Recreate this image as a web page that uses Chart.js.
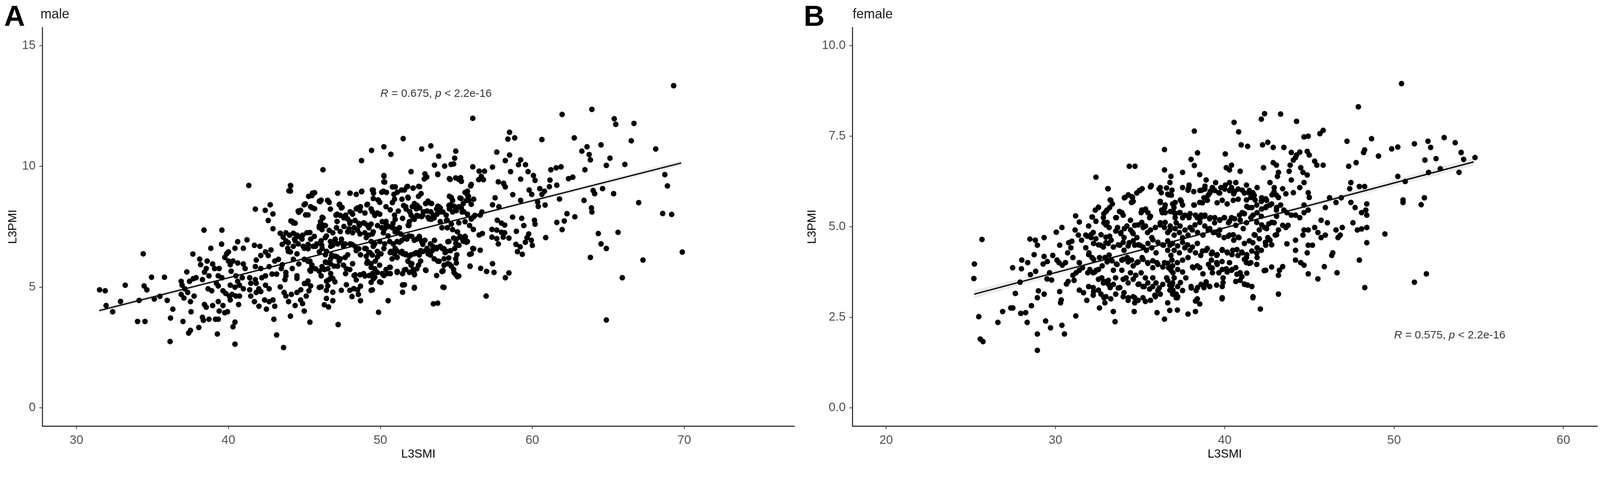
<!DOCTYPE html>
<html>
<head>
<meta charset="utf-8">
<script src="https://cdn.jsdelivr.net/npm/chart.js@4.4.1/dist/chart.umd.min.js"></script>
<style>
  html, body { margin: 0; padding: 0; background: #fff; overflow: hidden; }
  #page {
    width: 4314px;
    height: 1246px;
    position: absolute;
    left: 0;
    top: 0;
    transform-origin: 0 0;
    font-family: "Liberation Sans", Arial, sans-serif;
  }
  canvas { position: absolute; top: 0; }
  #chartMale { left: 0; width: 2150px; height: 1246px; }
  #chartFemale { left: 2150px; width: 2164px; height: 1246px; }
  .tag { position: absolute; font-weight: bold; font-size: 78px; line-height: 78px; color: #000; }
  .panelTitle { position: absolute; font-size: 36px; line-height: 36px; color: #1a1a1a; }
</style>
</head>
<body>
<div id="page">
  <canvas id="chartMale" width="2150" height="1246"></canvas>
  <canvas id="chartFemale" width="2164" height="1246"></canvas>
  <div class="tag" style="left:11px;top:4px">A</div>
  <div class="panelTitle" style="left:109px;top:20px">male</div>
  <div class="tag" style="left:2167px;top:4px">B</div>
  <div class="panelTitle" style="left:2299px;top:20px">female</div>
</div>

<script>
const FONT = '"Liberation Sans", Arial, sans-serif';

// keep the 4314x1246 layout inside whatever viewport we get
const page = document.getElementById("page");
const fit = Math.min(window.innerWidth / 4314, window.innerHeight / 1246);
if (fit > 0 && Math.abs(fit - 1) > 0.002) {
  page.style.transform = "scale(" + fit + ")";
}

const maleXTicks = [30, 40, 50, 60, 70];
const maleYTicks = [0, 5, 10, 15];
const femaleXTicks = [20, 30, 40, 50, 60];
const femaleYTicks = [0, 2.5, 5, 7.5, 10];

// [L3SMI, L3PMI]
const malePoints = [
  [31.52,4.89],[31.89,4.85],[31.95,4.24],[32.38,3.98],[32.9,4.41],[33.21,5.08],[34.39,6.38],[34.45,5.05],[34.63,4.89],[34.12,4.45],
  [34.02,3.58],[34.51,3.58],[34.94,5.41],[35.79,5.41],[35.12,4.51],[35.49,4.62],[35.97,4.45],[36.34,4.09],[36.19,3.72],[36.16,2.75],
  [37.01,3.58],[37.26,5.63],[36.89,5.24],[36.95,5.08],[37.13,4.93],[36.89,4.70],[37.07,4.55],[37.32,4.78],[37.44,5.24],[37.68,5.35],
  [37.87,5.39],[37.66,6.37],[37.5,4.40],[37.54,3.98],[37.5,3.21],[37.38,3.10],[37.74,4.63],[38.11,6.16],[38.17,5.93],[38.05,3.33],
  [38.39,7.36],[38.6,6.08],[38.96,5.96],[38.54,5.77],[38.42,5.62],[38.72,5.47],[38.84,6.61],[38.29,5.31],[38.66,4.93],[38.9,4.85],
  [38.42,4.28],[38.54,4.17],[38.29,3.75],[38.35,3.63],[38.72,3.67],[38.96,4.24],[39.15,3.67],[39.33,3.67],[39.27,3.06],[39.57,7.36],
  [39.55,6.78],[39.09,5.77],[39.39,5.77],[39.33,5.47],[39.57,5.39],[39.21,5.16],[39.33,5.05],[39.64,4.85],[39.82,4.74],[39.33,4.40],
  [39.64,4.24],[39.39,4.01],[39.76,3.94],[39.94,3.98],[39.88,6.38],[40.0,6.46],[39.76,6.23],[40.0,6.08],[40.12,5.93],[40.61,6.88],
  [40.43,6.61],[40.3,6.08],[40.61,6.0],[40.18,5.66],[40.49,5.47],[40.12,5.08],[40.43,5.0],[40.61,5.24],[40.06,4.63],[40.24,4.70],
  [40.49,4.63],[40.73,4.63],[40.12,4.47],[40.67,4.28],[40.43,3.55],[40.3,3.36],[40.43,2.64],[40.98,6.61],[41.22,6.96],[41.34,9.21],
  [40.98,5.96],[41.1,5.77],[40.91,5.39],[40.73,5.08],[40.98,4.93],[41.4,5.39],[41.47,5.16],[41.4,4.89],[41.47,4.63],[41.77,8.23],
  [41.71,6.73],[42.07,6.69],[41.83,6.12],[42.13,6.31],[41.77,5.85],[42.13,5.77],[41.77,5.31],[41.83,5.16],[42.0,4.93],[42.13,4.82],
  [41.83,4.78],[41.71,4.40],[42.01,4.21],[42.2,5.39],[42.42,8.18],[42.75,8.41],[42.62,7.76],[42.93,8.03],[42.93,7.42],[42.44,6.46],
  [42.8,6.54],[42.62,6.31],[42.68,5.85],[43.05,6.08],[42.44,5.47],[42.87,5.54],[42.44,5.08],[42.68,4.93],[42.38,4.47],[42.68,4.40],
  [42.93,4.47],[42.5,4.09],[43.05,4.21],[42.99,3.67],[43.17,3.02],[43.63,2.50],[43.41,7.23],[43.6,7.07],[43.78,6.92],[43.54,6.77],
  [43.9,6.61],[43.29,6.15],[43.54,5.93],[43.48,5.77],[43.17,5.54],[43.78,5.47],[43.72,5.31],[43.41,5.01],[43.66,4.78],[43.78,4.63],
  [43.96,4.40],[44.08,9.21],[44.08,8.98],[44.2,7.72],[44.39,7.65],[44.63,8.10],[44.75,8.18],[44.27,7.23],[44.51,7.15],[44.39,6.92],
  [44.08,6.46],[44.51,6.38],[44.27,6.15],[44.2,5.77],[44.63,5.96],[44.51,5.47],[44.14,4.70],[44.51,4.78],[44.39,4.24],[44.75,4.47],
  [44.08,3.80],[44.99,4.01],[45.36,3.55],[45.12,4.63],[44.88,4.32],[45.12,5.16],[45.3,4.85],[44.99,6.15],[45.36,6.08],[45.49,5.85],
  [45.36,5.70],[44.99,6.61],[45.24,6.77],[45.73,6.69],[45.06,8.45],[45.49,8.29],[45.49,8.79],[45.67,8.91],[45.24,7.99],[44.88,7.15],
  [45.36,7.26],[46.1,8.6],[46.22,9.86],[45.98,7.53],[46.16,7.38],[46.1,6.92],[45.98,6.46],[46.16,5.85],[46.1,5.47],[46.1,5.01],
  [47.19,8.89],[47.99,8.89],[48.41,8.84],[48.76,8.95],[48.76,10.24],[49.42,10.66],[50.23,10.81],[50.69,10.5],[50.23,9.62],[50.23,9.36],
  [49.53,9.02],[50.09,8.93],[50.79,9.15],[46.03,8.54],[46.52,8.59],[47.29,8.41],[47.43,8.28],[47.71,7.98],[47.08,7.98],[47.15,7.72],
  [46.17,7.89],[46.38,7.55],[48.13,8.07],[48.41,8.24],[48.69,8.33],[49.11,8.41],[49.53,8.67],[49.88,8.59],[49.39,8.24],[49.8,8.07],
  [50.37,8.33],[50.65,8.2],[50.79,8.5],[50.93,7.98],[47.99,7.64],[48.27,7.46],[47.85,7.29],[48.62,7.55],[48.97,7.64],[49.25,7.46],
  [49.53,7.29],[49.81,7.55],[50.09,7.46],[50.37,7.72],[50.79,7.46],[51.07,7.29],[50.51,7.12],[46.45,7.12],[47.01,6.94],[47.43,6.86],
  [46.73,6.69],[47.57,6.69],[48.13,6.77],[48.41,6.51],[48.69,6.34],[47.85,6.34],[46.17,6.6],[46.38,6.34],[46.73,6.17],[47.15,6.25],
  [48.97,6.6],[49.25,6.43],[49.53,6.69],[49.81,6.25],[50.23,6.6],[50.65,6.43],[51.07,6.51],[49.11,5.99],[49.39,5.82],[49.67,6.08],
  [49.95,5.91],[50.37,5.73],[50.65,5.82],[49.25,5.48],[49.53,5.35],[49.95,5.22],[50.23,5.48],[50.65,5.56],[47.57,5.91],[47.99,5.73],
  [47.71,5.56],[48.27,5.48],[46.31,5.73],[46.73,5.56],[46.59,5.3],[47.01,5.22],[46.45,4.87],[46.87,4.79],[46.45,4.53],[46.87,4.44],
  [46.31,4.27],[46.59,4.18],[47.99,4.87],[48.13,4.61],[48.55,4.7],[48.69,4.44],[48.41,5.3],[48.69,5.04],[49.39,4.87],[49.88,3.96],
  [50.51,4.44],[47.22,3.45],[47.43,4.87],[47.29,6.08],[46.38,6.04],
  [69.3,13.34],[61.96,12.15],[63.92,12.36],[56.08,11.99],[65.39,11.97],[65.49,11.74],[66.69,11.78],[51.5,11.15],[58.5,11.41],[58.39,11.13],
  [58.84,11.18],[60.63,11.11],[62.76,11.18],[66.51,11.06],[52.72,10.72],[53.32,10.85],[53.84,10.42],[54.96,10.63],[54.89,10.34],[54.82,10.10],
  [57.66,10.59],[58.5,10.47],[58.22,10.24],[59.23,10.27],[63.26,10.63],[63.6,10.81],[63.74,10.49],[63.82,10.27],[64.52,10.89],[65.11,10.34],
  [64.87,10.04],[66.09,10.08],[68.12,10.72],[53.56,10.05],[54.23,10.01],[54.65,10.08],[56.08,9.98],[57.38,9.97],[56.5,9.8],[56.85,9.8],
  [59.09,10.07],[59.55,10.07],[58.57,9.78],[59.72,9.78],[61.22,9.86],[61.57,9.94],[61.89,9.98],[63.46,9.86],[52.02,9.78],[52.93,9.69],
  [53.77,9.68],[54.54,9.49],[54.96,9.52],[55.28,9.53],[56.64,9.58],[56.47,9.45],[56.78,9.45],[57.76,9.36],[58.11,9.28],[59.23,9.47],
  [60.07,9.62],[60.18,9.42],[61.16,9.43],[62.38,9.49],[62.66,9.55],[68.72,9.66],[68.89,9.19],[67.0,8.5],[68.58,8.05],[69.17,8.01],
  [69.87,6.45],[67.28,6.12],[65.92,5.39],[64.87,3.64],[63.82,6.23],[64.34,7.22],[64.52,6.79],[64.87,6.6],[65.64,7.27],[65.35,8.87],
  [64.0,9.0],[64.1,8.87],[64.62,9.08],[63.4,8.59],[63.89,8.28],[63.92,8.11],[62.8,7.91],[62.28,8.04],[62.1,7.74],[61.61,7.68],
  [61.96,7.38],[60.88,7.05],[61.79,8.65],[60.84,8.4],[60.39,8.34],[60.35,8.52],[60.49,9.08],[60.8,8.97],[60.63,8.84],[59.96,8.84],
  [59.79,9.02],[61.12,9.16],[61.61,9.22],[59.23,8.59],[58.71,8.83],[58.22,9.15],[58.11,9.30],[57.55,8.70],[57.38,8.41],[57.8,8.33],
  [58.7,7.9],[59.3,7.85],[59.44,7.55],[60.14,7.77],[60.18,7.61],[59.76,7.2],[59.65,7.05],[59.93,6.94],[59.54,6.86],[60.0,6.73],
  [58.95,7.31],[58.92,6.77],[59.2,6.67],[59.02,6.47],[59.34,6.36],[57.69,7.77],[57.97,7.65],[58.18,7.57],[57.34,7.39],[57.66,7.36],
  [57.97,7.27],[58.18,7.25],[57.34,7.07],[57.66,7.01],[58.08,7.07],[58.46,7.03],[57.76,6.79],[56.08,6.6],[56.57,6.53],[55.87,6.36],
  [55.9,5.86],[56.6,5.78],[56.99,5.65],[57.48,5.61],[57.38,5.97],[58.46,5.59],[58.22,5.39],[56.96,4.63],[56.12,7.9],[56.57,7.98],
  [56.68,8.11],[55.87,7.55],[56.12,7.39],[56.5,7.16],[56.71,7.22],[55.07,7.29],[55.31,7.05],[55.59,7.07],[55.45,6.9],[54.82,7.03],
  [54.96,6.82],[55.66,6.86],[55.17,6.73],[54.89,6.6],[55.03,6.34],[54.96,6.17],[55.0,6.0],[54.82,5.73],[54.96,5.52],[55.07,5.43],
  [55.45,8.46],[55.66,8.59],[55.8,8.76],[55.73,8.97],[55.94,9.19],[55.31,8.67],[55.17,8.33],[55.38,8.11],[55.73,8.02],[54.61,8.41],
  [54.89,8.33],[54.54,8.24],[54.75,8.11],[54.12,8.11],[54.33,7.98],[54.54,8.76],[54.75,8.59],[54.4,7.77],[54.05,7.46],[54.4,7.46],
  [54.75,7.38],[54.44,6.88],[54.08,6.6],[54.26,6.43],[54.61,6.51],[54.5,6.21],[53.77,6.08],[54.19,5.91],[54.05,5.65],[54.54,5.95],
  [53.56,6.94],[53.7,6.64],[53.42,6.51],[53.14,6.38],[53.7,8.24],[53.84,8.33],[53.49,7.98],[53.35,7.81],[52.98,8.46],[53.21,8.5],
  [53.07,8.15],[52.79,7.98],[53.14,7.89],[52.51,7.94],[52.23,7.81],[52.02,7.98],[51.88,7.55],[52.37,8.24],[51.67,8.33],[51.18,8.15],
  [51.46,7.85],[50.97,7.81],[52.51,8.76],[51.81,8.72],[51.11,8.93],[51.39,9.02],[51.74,9.15],[52.16,9.1],[52.58,9.16],[51.88,7.12],
  [52.23,6.94],[52.58,7.03],[52.93,6.94],[52.79,6.77],[51.6,7.07],[51.25,6.86],[50.97,6.6],[51.32,6.43],[51.67,6.34],[52.02,6.34],
  [52.37,6.43],[52.65,6.51],[53.07,6.6],[51.81,6.08],[52.02,5.91],[52.16,5.73],[52.23,5.56],[51.67,5.73],[51.11,5.65],[51.46,5.56],
  [53.0,5.69],[53.7,5.48],[54.12,5.69],[54.12,5.0],[51.46,4.79],[51.46,5.09],[52.23,4.96],[53.49,4.31],[53.77,4.34],[52.65,6.08],
  [52.51,5.91],[50.97,7.29],[51.25,7.46],[50.83,7.64],
  // dense middle of the cloud
  [50.24,9.59],[50.28,9.35],[53.05,9.56],[52.89,9.48],[53.78,9.66],[54.59,9.46],[55.16,9.46],[55.33,9.38],[55.98,9.25],[44.1,9.20],
  [43.98,8.99],[50.98,9.15],[51.79,9.17],[52.15,9.10],[52.52,9.17],[51.58,9.02],[49.47,9.02],[49.55,8.89],[50.2,8.97],[50.4,8.92],
  [48.01,8.89],[48.78,8.97],[45.53,8.89],[45.28,8.76],[52.68,8.87],[55.57,8.92],[55.73,8.82],[50.89,8.84],[50.93,8.64],[51.42,8.64],
  [51.83,8.69],[49.84,8.61],[49.96,8.51],[54.67,8.71],[55.24,8.69],[56.14,8.64],[45.98,8.56],[46.54,8.59],[46.63,8.51],[44.98,8.41],
  [45.41,8.33],[45.67,8.25],[47.32,8.43],[47.48,8.30],[49.15,8.43],[52.24,8.46],[52.4,8.38],[53.13,8.56],[53.37,8.46],[53.78,8.35],
  [53.94,8.28],[54.51,8.38],[54.84,8.35],[55.0,8.17],[55.81,8.59],[55.98,8.43],[55.33,8.28],[55.49,8.12],[51.53,8.38],[51.69,8.23],
  [51.93,8.12],[52.1,8.33],[52.42,8.38],[52.58,8.28],[52.83,8.12],[53.32,8.12],[53.72,8.02],[53.97,8.12],[48.5,8.28],[48.66,8.17],
  [48.98,8.07],[49.47,8.12],[49.63,7.97],[49.96,8.02],[48.01,8.12],[48.17,8.02],[46.71,8.23],[44.59,8.15],[45.08,7.99],[47.15,8.02],
  [47.36,7.97],[47.6,7.87],[47.85,7.82],[48.01,7.71],[46.22,7.87],[46.06,7.71],[44.11,7.74],[44.27,7.66],[48.33,7.76],[48.58,7.64],
  [48.9,7.66],[49.15,7.56],[49.39,7.61],[50.12,7.71],[50.37,7.61],[50.53,7.51],[50.28,7.41],[50.2,7.25],[50.93,7.41],[51.1,7.3],
  [51.34,7.2],[51.83,7.56],[51.91,7.71],[52.15,7.87],[52.4,7.97],[52.72,7.92],[53.21,7.82],[53.54,7.87],[53.94,7.71],[54.35,7.76],
  [54.67,7.61],[55.16,7.66],[55.57,7.71],[55.98,7.82],[56.22,7.97],[45.98,7.46],[46.22,7.56],[46.63,7.35],[46.87,7.25],[47.11,7.46],
  [47.36,7.3],[47.6,7.51],[47.93,7.41],[48.17,7.25],[48.5,7.35],[48.66,7.2],[48.98,7.25],[49.23,7.15],[49.47,7.2],[43.78,7.25],
  [44.02,7.15],[44.35,6.99],[44.59,7.1],[44.84,6.99],[45.16,7.25],[45.41,6.99],[45.65,7.1],[43.94,6.84],[44.27,6.69],[44.59,6.79],
  [44.92,6.69],[45.24,6.59],[45.57,6.69],[45.81,6.79],[46.14,6.74],[46.38,7.05],[46.71,6.89],[46.87,6.74],[47.03,6.99],[47.19,6.79],
  [47.44,6.99],[47.68,6.79],[48.01,6.79],[48.33,6.69],[48.58,6.59],[49.07,7.05],[49.39,6.89],[49.63,6.79],[49.96,6.89],[50.28,6.79],
  [50.61,6.89],[50.85,6.79],[51.1,6.89],[51.42,6.94],[51.75,6.99],[52.07,7.1],[52.4,6.99],[52.72,6.89],[52.56,7.1],[53.29,6.79],
  [53.45,6.69],[53.7,6.59],[53.94,6.69],[54.19,6.59],[54.35,6.48],[55.0,6.99],[55.24,7.1],[55.41,6.99],[55.57,7.1],[55.73,6.89],
  [55.0,6.79],[54.51,6.89],[56.14,6.59],[55.98,6.38],[49.07,6.59],[49.31,6.43],[49.07,6.28],[49.47,6.33],[49.8,6.48],[50.04,6.38],
  [50.69,6.48],[50.93,6.38],[50.77,6.17],[51.1,6.23],[51.42,6.48],[51.67,6.38],[51.91,6.28],[52.24,6.38],[52.56,6.33],[52.81,6.48],
  [53.13,6.53],[53.29,6.33],[53.54,6.17],[53.86,6.07],[54.19,6.17],[54.43,5.97],[54.67,5.87],[54.84,5.61],[55.16,5.46],[55.9,5.87],
  [54.11,5.66],[46.46,6.48],[46.79,6.33],[47.03,6.28],[47.36,6.17],[47.68,6.23],[45.24,6.07],[45.49,5.92],[45.73,5.76],[45.98,5.66],
  [45.41,5.66],[46.46,6.02],[46.71,5.97],[46.95,5.87],[47.19,5.87],[46.54,5.76],[47.76,5.76],[48.17,5.97],[48.33,5.51],[48.66,5.51],
  [48.9,5.56],[49.15,6.07],[49.39,5.97],[49.63,5.76],[49.47,5.56],[49.8,5.61],[49.63,5.41],[50.12,5.56],[50.61,5.82],[51.1,5.61],
  [51.58,5.71],[51.91,5.61],[52.24,5.51],[51.5,6.38],[51.83,6.07],[52.07,5.97],[52.4,5.76],[52.97,5.71],[44.51,5.36],[45.0,5.15],
  [45.24,5.25],[45.41,5.05],[44.76,4.89],[45.98,4.99],[46.46,5.25],[46.71,5.36],[46.87,5.36],[46.54,5.05],[47.76,5.1],[48.25,4.94],
  [48.5,4.89],[48.98,5.46],[49.39,5.2],[49.47,4.89],[50.04,5.2],[50.45,5.56],[51.58,5.1],[52.24,4.99],[54.19,4.99],[43.78,5.61],
  [43.78,6.89],[43.94,6.48]
];

const femalePoints = [
  [25.66,4.65],[25.21,3.97],[25.18,3.57],[25.47,2.52],[25.56,1.90],[25.72,1.83],[26.6,2.36],[26.88,2.66],[27.36,2.76],[27.48,2.76],
  [27.47,3.87],[27.63,3.16],[27.91,3.47],[28.01,4.08],[27.99,3.84],[28.36,4.01],[27.95,2.61],[28.24,2.63],[28.33,2.36],[28.49,4.66],
  [28.81,4.63],[28.93,4.49],[29.33,4.70],[28.74,4.23],[28.83,3.77],[28.52,3.68],[28.58,2.82],[28.93,2.04],[28.93,1.59],[28.99,3.23],
  [28.93,3.04],[29.33,3.14],[29.42,2.40],[29.71,2.21],[29.33,4.18],[29.52,4.04],[29.27,3.97],[29.65,3.73],[29.5,3.56],[29.77,3.53],
  [29.84,4.21],[30.09,4.08],[30.05,4.85],[30.38,4.98],[30.25,4.49],[30.21,4.01],[30.4,3.94],[30.59,4.01],[30.25,3.21],[30.34,2.98],
  [30.3,2.90],[30.38,2.28],[30.53,2.04],[30.65,3.42],[30.75,3.49],[30.72,4.28],[30.91,4.42],[31.03,4.15],[30.78,4.56],[30.97,4.60],
  [31.03,3.66],[31.22,3.73],[31.1,3.52],[31.2,2.54],[31.19,5.30],[31.41,5.13],[31.16,4.91],[31.35,4.77],[31.54,4.63],[31.41,4.01],
  [31.6,3.87],[31.41,3.80],[31.41,3.25],[31.66,3.18],[31.85,2.97],[31.79,4.42],[31.98,4.28],[32.16,4.15],[31.79,4.77],[32.1,4.70],
  [32.23,4.84],[32.16,5.27],[32.35,5.46],[32.54,5.53],[32.39,6.37],[31.91,3.73],[32.23,3.73],[32.41,3.80],[32.23,3.32],[32.54,3.25],
  [32.23,3.11],[32.6,2.76],[32.73,3.59],[32.86,3.49],[33.11,3.42],[32.86,3.04],[32.92,2.90],[32.6,4.15],[32.92,4.15],[33.17,4.22],
  [32.67,4.49],[32.98,4.56],[33.29,4.63],[32.86,5.11],[33.17,4.98],[32.86,5.36],[33.04,5.46],[33.11,6.05],[33.23,5.74],[33.36,5.63],
  [33.29,4.08],[33.6,3.97],[33.42,3.80],[33.55,3.59],[33.23,3.32],[33.42,2.66],[33.52,2.38],[33.6,5.25],[33.92,5.39],[33.67,4.98],
  [33.86,4.84],[34.05,4.70],[33.8,4.49],[34.05,4.35],[33.92,4.08],[34.24,4.15],[33.92,3.80],[34.17,3.59],[33.8,3.32],[34.05,3.18],
  [34.11,5.81],[34.3,5.88],[34.55,5.81],[34.36,6.67],[34.7,6.67],[34.49,5.67],[34.3,3.04],[34.68,3.04],[34.68,2.90],[34.65,2.66],
  [34.43,5.18],[34.68,5.04],[34.55,4.84],[34.81,4.70],[34.36,4.56],[34.68,4.49],[34.99,4.49],[34.49,4.08],[34.81,4.01],[35.12,4.15],
  [34.43,3.73],[34.74,3.66],[35.06,3.73],[35.31,3.59],[34.93,3.42],[35.24,3.35],[35.56,3.28],[34.99,6.0],[35.12,6.05],[35.66,6.14],
  [35.31,2.94],[35.06,5.39],[35.31,5.46],[35.56,5.25],[35.18,4.98],[35.44,4.84],[35.69,4.70],[35.37,4.35],[35.69,4.42],[35.94,4.28],
  [35.44,4.01],[35.75,3.87],[35.99,4.01],[35.75,3.59],[35.94,3.45],[36.13,3.31],[35.87,3.11],[36.0,2.63],[36.19,6.08],[36.25,5.94],
  [36.19,5.67],[36.45,5.53],[36.31,5.39],[36.44,6.57],[36.82,6.39],[36.44,7.13],[36.19,5.11],[36.44,4.98],[36.63,4.84],[36.38,4.49],
  [36.63,4.35],[36.82,4.21],[36.44,4.01],[36.68,3.87],[36.94,3.73],[36.57,3.59],[36.75,3.39],[36.94,3.25],[37.13,3.04],[36.75,2.69],
  [36.44,2.45],[36.69,5.88],[37.0,5.53],[37.07,5.25],
  [50.44,8.95],[47.89,8.31],[40.55,7.88],[40.82,7.62],[38.2,7.64],[42.16,7.97],[42.35,8.12],[43.3,8.11],[44.24,7.91],[44.68,7.48],
  [44.93,7.50],[45.62,7.57],[45.81,7.66],[47.22,7.36],[48.67,7.43],[40.97,7.26],[41.35,7.22],[42.23,7.26],[42.54,7.33],[42.86,7.19],
  [43.49,7.19],[38.39,7.04],[38.01,6.86],[38.2,6.69],[37.51,6.50],[38.52,6.44],[40.03,7.01],[40.09,6.63],[40.28,6.57],[40.4,6.70],
  [40.91,6.53],[42.29,6.63],[42.86,6.77],[43.05,6.70],[43.17,6.50],[43.11,6.39],[43.86,6.70],[44.05,6.84],[44.24,6.98],[44.43,7.06],
  [43.93,7.05],[44.18,6.91],[43.8,6.53],[43.93,6.29],[44.49,6.63],[44.62,6.50],[44.87,7.08],[44.99,6.98],[45.31,6.81],[45.44,6.70],
  [45.81,6.70],[47.32,6.67],[47.76,6.77],[48.2,7.05],[48.26,7.12],[49.08,6.95],[49.86,7.15],[50.22,7.20],[51.2,7.29],[52.0,7.36],
  [52.16,7.19],[51.82,6.84],[52.48,6.88],[52.96,7.46],[53.61,7.32],[53.96,7.05],[54.11,6.86],[54.78,6.91],[53.84,6.50],[52.73,6.60],
  [52.04,6.50],[50.22,6.39],[50.66,6.25],[50.53,5.74],[50.53,5.67],[51.6,5.61],[51.79,5.80],[49.46,4.80],[51.2,3.47],[51.91,3.70],
  [48.27,3.32],[47.95,4.08],[48.39,4.56],[48.39,4.98],[47.57,5.11],[47.83,4.91],[48.08,4.94],[47.45,5.67],[47.7,5.53],[48.08,5.39],
  [48.39,5.32],[48.39,5.63],[48.33,5.46],[47.38,6.05],[47.45,6.22],[47.95,6.11],[48.26,6.11],[46.19,5.80],[46.57,5.67],[46.88,5.80],
  [45.94,5.53],[45.69,5.18],[46.06,5.11],[46.57,4.91],[46.94,4.98],[46.69,4.70],[46.82,4.77],[46.38,4.28],[46.32,4.21],[46.63,3.73],
  [45.88,3.90],[45.5,3.56],[44.93,3.70],[44.68,3.94],[44.49,4.01],[44.18,4.08],[44.87,4.28],[44.93,4.49],[45.18,4.49],[45.69,4.70],
  [45.94,4.77],[45.5,4.84],[45.31,4.98],[44.93,4.91],[44.62,4.77],[44.68,4.91],[44.18,4.35],[44.18,4.63],[43.67,4.53],[43.61,4.98],
  [43.74,5.04],[43.42,5.04],[43.17,4.91],[42.98,4.77],[43.42,3.90],[43.23,3.80],[43.17,3.66],[42.42,3.80],[43.17,3.14],[42.1,2.73],
  [41.66,3.04],[41.35,3.39],[41.16,3.42],[40.91,3.52],[40.65,3.49],[39.84,3.01],[38.27,2.66],[37.83,2.59],[37.2,2.70],[37.2,3.04],
  [37.13,3.14],[38.27,2.95],[38.52,2.87],[38.01,3.35],[38.39,3.32],[38.77,3.32],[38.9,3.42],[37.38,3.46],[37.7,3.59],[37.01,3.59],
  [36.82,3.80],[38.14,3.87],[38.52,3.87],[38.71,3.70],[39.15,3.87],[39.27,3.73],[39.65,3.73],[39.9,3.59],[40.09,3.84],[40.4,3.80],
  [40.65,3.87],[40.91,3.73],[39.52,3.39],[39.9,3.46],[41.03,4.28],[41.28,4.15],[41.28,4.01],[41.54,4.01],[41.91,4.15],[41.66,4.56],
  [41.91,4.42],[42.16,4.35],[42.42,4.49],[42.67,4.63],[41.79,4.77],[42.04,4.91],[42.54,4.70],[41.28,5.11],[41.54,5.25],[41.91,5.39],
  [42.16,5.29],[42.35,4.98],[42.6,5.08],[42.92,5.11],[42.42,5.53],[42.67,5.60],[43.05,5.46],[43.3,5.60],[43.49,5.46],[43.67,5.39],
  [43.93,5.32],[44.18,5.32],[44.43,5.25],[44.68,5.39],[44.68,5.60],[44.93,5.46],[44.99,5.81],[44.93,5.94],[44.43,6.08],[44.68,6.22],
  [44.87,6.43],[44.05,5.94],[43.42,6.05],[43.61,5.91],[43.17,5.81],[42.67,6.22],[42.92,6.08],[42.79,5.88],[42.42,5.77],[42.16,5.70],
  [41.91,6.08],[41.66,5.94],[41.79,5.74],[41.28,5.74],[41.54,5.81],[41.41,5.53],[41.03,5.39],[41.03,6.01],[41.28,6.15],[41.41,5.94],
  [40.65,6.22],[40.4,6.08],[40.53,5.91],[40.28,6.22],[40.03,6.15],[39.77,6.08],[39.65,5.94],[39.46,6.22],[39.27,6.08],[39.15,5.98],
  [38.9,6.29],[38.83,6.12],[39.02,5.87],[38.64,6.01],[38.77,5.80],[38.52,5.67],[38.2,5.60],[37.89,6.15],[37.83,6.01],[37.51,6.08],
  [37.38,5.74],[37.07,5.67],[36.88,6.01],[36.76,6.22],[37.01,5.39],[37.32,5.39],[37.51,5.25],[37.13,5.11],[37.89,5.25],[38.27,5.32],
  [38.58,5.25],[38.83,5.32],[39.15,5.25],[39.4,5.11],[39.71,5.18],[39.96,5.25],[40.22,5.11],[40.4,5.25],[40.65,5.04],[40.91,5.18],
  [36.76,4.91],[37.01,4.77],[37.32,4.84],[37.51,4.70],[37.83,4.77],[38.08,4.91],[38.39,4.84],[38.71,4.77],[39.02,4.91],[39.33,4.84],
  [39.65,4.77],[39.96,4.70],[40.28,4.77],[40.53,4.63],[40.84,4.70],[36.76,4.49],[37.01,4.35],[37.32,4.28],[37.64,4.42],[37.95,4.35],
  [38.27,4.28],[38.58,4.21],[38.9,4.35],[39.21,4.25],[39.52,4.21],[39.84,4.35],[40.15,4.28],[40.47,4.35],[40.78,4.21],[36.88,4.08],
  [37.2,4.01],[37.51,4.08],[37.83,4.15],[39.21,4.08],[39.52,4.01],[39.84,4.04],[40.28,4.01],[36.76,3.25],[36.88,3.39],[36.63,2.90],
  // dense middle of the cloud
  [33.09,6.05],[34.95,6.0],[34.8,5.93],[35.61,6.1],[36.12,6.04],[36.56,6.07],[36.63,5.9],[36.85,5.87],[37.87,6.07],[38.17,5.97],
  [38.53,6.0],[38.82,6.04],[39.11,5.93],[39.41,6.0],[39.7,5.93],[39.99,6.04],[40.28,6.0],[40.58,5.97],[40.79,6.04],[41.16,5.93],
  [41.45,6.0],[41.74,5.87],[42.18,5.8],[42.47,5.73],[42.91,5.97],[43.06,5.87],[33.27,5.73],[32.54,5.54],[33.2,5.53],[32.98,5.42],
  [32.18,5.27],[32.39,5.15],[32.83,5.25],[34.07,5.8],[34.51,5.83],[34.59,5.7],[36.19,5.7],[36.48,5.6],[36.92,5.63],[37.43,5.7],
  [37.51,5.6],[38.17,5.6],[38.68,5.66],[38.97,5.73],[39.55,5.66],[39.85,5.73],[40.14,5.63],[40.5,5.73],[40.79,5.76],[41.3,5.56],
  [41.6,5.53],[41.89,5.6],[42.18,5.49],[42.47,5.56],[42.77,5.63],[43.06,5.53],[33.78,5.42],[34.0,5.32],[33.56,5.25],[32.98,5.05],
  [33.05,5.12],[35.1,5.46],[35.32,5.49],[35.46,5.39],[35.61,5.29],[36.27,5.46],[36.48,5.39],[36.78,5.42],[37.07,5.36],[37.36,5.39],
  [37.65,5.32],[37.95,5.36],[38.38,5.25],[38.6,5.32],[38.82,5.29],[39.11,5.22],[39.41,5.25],[39.7,5.19],[39.99,5.25],[40.28,5.15],
  [40.58,5.22],[40.87,5.32],[41.16,5.36],[41.67,5.32],[41.89,5.12],[42.18,5.05],[42.47,4.95],[42.77,5.12],[43.06,5.29],[41.09,4.95],
  [31.96,5.02],[32.1,4.78],[31.88,4.74],[32.39,4.67],[32.69,4.78],[32.98,4.71],[33.2,4.74],[33.56,4.88],[33.86,4.81],[34.07,4.95],
  [34.22,5.02],[34.44,4.91],[34.59,4.81],[34.88,5.05],[35.1,5.12],[35.32,5.02],[35.61,4.91],[35.9,4.98],[36.19,5.05],[36.48,5.12],
  [36.78,5.02],[37.07,4.95],[37.36,5.02],[37.65,4.91],[37.95,4.98],[38.24,5.05],[38.53,5.12],[38.82,5.02],[39.11,4.95],[39.41,4.85],
  [39.7,4.91],[40.21,4.74],[40.5,4.78],[40.79,4.71],[41.16,4.54],[41.45,4.61],[41.74,4.78],[42.04,4.67],[42.4,4.57],[42.77,4.5],
  [43.06,4.78],[32.25,4.54],[32.54,4.5],[32.83,4.44],[33.12,4.54],[33.42,4.44],[33.71,4.5],[34.0,4.57],[34.29,4.47],[34.59,4.61],
  [34.88,4.5],[35.17,4.44],[35.46,4.54],[35.75,4.64],[36.05,4.57],[36.34,4.5],[36.63,4.61],[36.92,4.54],[37.22,4.47],[37.51,4.57],
  [37.8,4.5],[38.09,4.44],[38.38,4.54],[38.68,4.33],[38.97,4.4],[39.26,4.3],[39.55,4.23],[39.85,4.37],[40.14,4.3],[40.43,4.23],
  [40.72,4.37],[41.01,4.3],[41.3,4.23],[41.6,4.33],[41.89,4.27],[41.16,4.1],[41.45,3.99],[41.89,3.96],[42.33,3.79],[42.77,3.89],
  [31.96,4.23],[32.25,4.1],[32.03,3.82],[32.32,3.75],[32.54,3.82],[32.76,3.92],[33.05,4.03],[33.34,4.06],[33.64,3.96],[34.0,4.1],
  [34.29,4.03],[34.59,3.92],[34.88,4.03],[35.17,4.1],[35.46,3.99],[35.75,4.06],[36.05,3.96],[36.34,3.89],[36.63,3.99],[36.92,3.92],
  [37.22,3.82],[37.51,3.75],[38.09,3.89],[38.38,3.92],[39.04,3.96],[39.26,3.86],[39.55,3.96],[39.85,3.82],[40.14,3.75],[40.43,3.82],
  [40.72,3.69],[41.01,3.62],[41.3,3.72],[32.54,3.55],[32.83,3.45],[33.12,3.52],[33.42,3.41],[33.71,3.31],[34.0,3.55],[34.29,3.45],
  [34.59,3.55],[34.88,3.41],[35.17,3.35],[35.46,3.45],[35.75,3.35],[36.05,3.24],[36.34,3.41],[36.63,3.52],[36.92,3.45],[37.22,3.35],
  [37.51,3.24],[38.02,3.31],[38.31,3.24],[38.6,3.41],[38.9,3.48],[39.11,3.35],[39.85,3.35],[41.16,3.41],[41.6,3.35],[32.25,3.21],
  [31.96,3.35],[32.69,3.14],[32.98,3.07],[33.27,3.01],[33.56,3.14],[34.0,3.07],[34.29,2.97],[34.59,3.07],[34.88,2.97],[35.17,3.04],
  [35.61,2.97],[35.9,3.07],[36.19,3.14],[36.92,3.14],[37.22,3.07],[38.38,3.01],[39.85,3.04],[41.67,3.07]
];

// fitted line, read at both ends
const maleFitX = [31.5, 69.8];
const maleFitY = [4.03, 10.14];
const femaleFitX = [25.2, 54.7];
const femaleFitY = [3.14, 6.79];

// grey band around the fit
const maleBandX = [31.5, 47, 69.8];
const maleBandHi = [4.13, 6.53, 10.25];
const maleBandLo = [3.93, 6.47, 10.03];
const femaleBandX = [25.2, 37, 54.7];
const femaleBandHi = [3.25, 4.63, 6.9];
const femaleBandLo = [3.03, 4.57, 6.68];

const maleStat = { r: "0.675", p: "2.2e-16", at: [50, 13] };
const femaleStat = { r: "0.575", p: "2.2e-16", at: [50, 2] };

const statLabel = {
  id: "statLabel",
  afterDatasetsDraw(chart, args, opts) {
    const { ctx } = chart;
    const xs = chart.scales.x;
    const ys = chart.scales.y;
    let px = xs.getPixelForValue(opts.at[0]);
    const py = ys.getPixelForValue(opts.at[1]);
    const parts = [
      ["R", true],
      [" = " + opts.r + ", ", false],
      ["p", true],
      [" < " + opts.p, false],
    ];
    ctx.save();
    ctx.fillStyle = "#333";
    ctx.textBaseline = "middle";
    ctx.textAlign = "left";
    parts.forEach(([t, italic]) => {
      ctx.font = (italic ? "italic " : "") + "30px " + FONT;
      ctx.fillText(t, px, py);
      px += ctx.measureText(t).width;
    });
    ctx.restore();
  },
};

const toXY = (xs, ys) => xs.map((x, i) => ({ x: x, y: ys[i] }));

const makeChart = (canvasId, c) => {
  const ctx = document.getElementById(canvasId);
  return new Chart(ctx, {
    type: "scatter",
    data: {
      datasets: [
        {
          type: "line",
          data: toXY(c.bandX, c.bandLo),
          borderWidth: 0,
          borderColor: "rgba(0,0,0,0)",
          pointRadius: 0,
          fill: false,
          order: 3,
        },
        {
          type: "line",
          data: toXY(c.bandX, c.bandHi),
          borderWidth: 0,
          borderColor: "rgba(0,0,0,0)",
          backgroundColor: "rgba(170,170,170,0.25)",
          pointRadius: 0,
          fill: "-1",
          order: 2,
        },
        {
          data: c.points.map((p) => ({ x: p[0], y: p[1] })),
          pointRadius: 7.5,
          pointBackgroundColor: "#000",
          pointBorderWidth: 0,
          order: 1,
        },
        {
          type: "line",
          data: toXY(c.fitX, c.fitY),
          borderColor: "#000",
          borderWidth: 3.5,
          pointRadius: 0,
          fill: false,
          order: 0,
        },
      ],
    },
    options: {
      responsive: false,
      devicePixelRatio: 1,
      animation: false,
      events: [],
      layout: { padding: { left: 0, top: 74, right: c.padRight, bottom: 0 } },
      scales: {
        x: {
          type: "linear",
          min: c.xRange[0],
          max: c.xRange[1],
          afterBuildTicks: (s) => {
            s.ticks = c.xTicks.map((v) => ({ value: v }));
          },
          afterFit: (s) => {
            s.height = 98;
          },
          border: { display: true, color: "#333", width: 3 },
          grid: { drawOnChartArea: false, drawTicks: true, tickLength: 8, color: "#333", lineWidth: 2 },
          ticks: {
            color: "#4d4d4d",
            font: { family: FONT, size: 33 },
            padding: 11,
            maxRotation: 0,
            autoSkip: false,
            callback: (v) => String(v),
          },
          title: {
            display: true,
            text: "L3SMI",
            color: "#000",
            font: { family: FONT, size: 32 },
            padding: { top: 0, bottom: 3 },
          },
        },
        y: {
          type: "linear",
          min: c.yRange[0],
          max: c.yRange[1],
          afterBuildTicks: (s) => {
            s.ticks = c.yTicks.map((v) => ({ value: v }));
          },
          afterFit: (s) => {
            s.width = c.yWidth;
          },
          border: { display: true, color: "#333", width: 3 },
          grid: { drawOnChartArea: false, drawTicks: true, tickLength: 8, color: "#333", lineWidth: 2 },
          ticks: {
            color: "#4d4d4d",
            font: { family: FONT, size: 33 },
            padding: 10,
            autoSkip: false,
            callback: c.yFmt,
          },
          title: {
            display: true,
            text: "L3PMI",
            color: "#000",
            font: { family: FONT, size: 32 },
            padding: { top: c.yTitlePad, bottom: 0 },
          },
        },
      },
      plugins: {
        legend: { display: false },
        tooltip: { enabled: false },
        statLabel: c.stat,
      },
    },
    plugins: [statLabel],
  });
};

makeChart("chartMale", {
  points: malePoints,
  fitX: maleFitX,
  fitY: maleFitY,
  bandX: maleBandX,
  bandHi: maleBandHi,
  bandLo: maleBandLo,
  xTicks: maleXTicks,
  yTicks: maleYTicks,
  xRange: [27.75, 77.25],
  yRange: [-0.75, 15.75],
  yWidth: 114,
  yTitlePad: 16,
  padRight: 8,
  yFmt: (v) => String(v),
  stat: maleStat,
});

makeChart("chartFemale", {
  points: femalePoints,
  fitX: femaleFitX,
  fitY: femaleFitY,
  bandX: femaleBandX,
  bandHi: femaleBandHi,
  bandLo: femaleBandLo,
  xTicks: femaleXTicks,
  yTicks: femaleYTicks,
  xRange: [18, 62],
  yRange: [-0.5, 10.5],
  yWidth: 148,
  yTitlePad: 21,
  padRight: 6,
  yFmt: (v) => v.toFixed(1),
  stat: femaleStat,
});
</script>
</body>
</html>
